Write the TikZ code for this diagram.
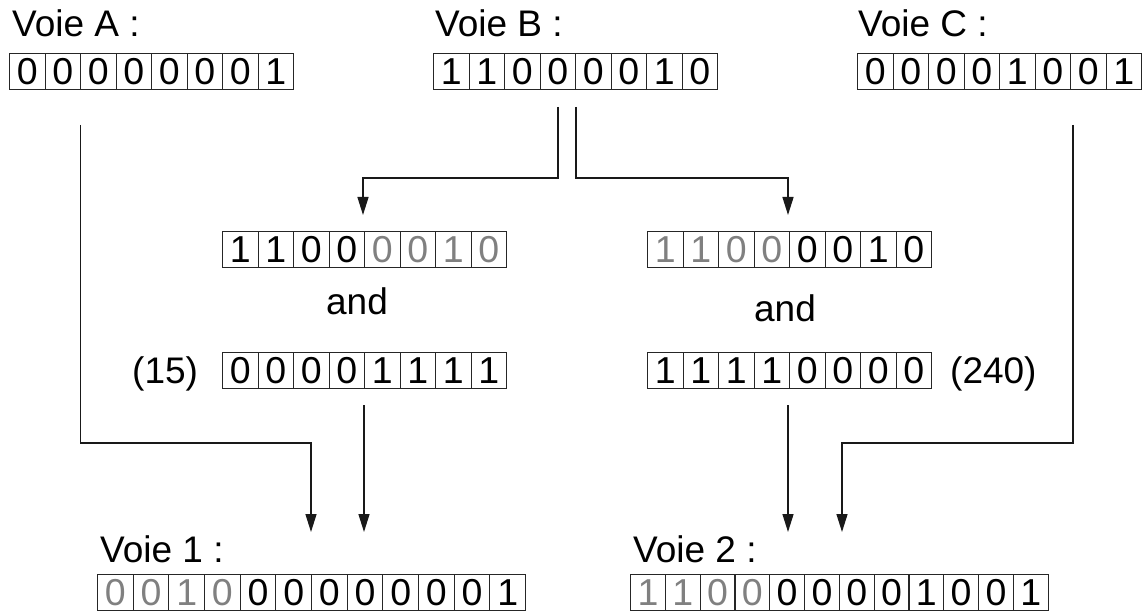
\documentclass[tikz,border=0pt]{standalone}
\usepackage{fontspec}
\setmainfont{Liberation Sans}
\usetikzlibrary{arrows.meta}
\colorlet{lt}{black!50}
\colorlet{k}{black}
\tikzset{
  cell/.style={draw=black!85,line width=1.1pt,minimum width=#1pt,minimum height=36pt,
    inner sep=0pt,font=\fontsize{37.5}{40}\selectfont},
  lbl/.style={anchor=base west,inner sep=0pt,font=\fontsize{37}{40}\selectfont},
  opword/.style={anchor=base,inner sep=0pt,font=\fontsize{37}{40}\selectfont},
  wire/.style={line width=1.4pt,draw=black!90},
  arr/.style={wire,-{Triangle[length=18pt,width=11pt]}},
}
\newcommand\register[5]{%
  \foreach \d/\c [count=\i] in {#5}{%
    \node[cell=#4, text=\c, anchor=north west] (#1-\i) at ({#2+(\i-1)*#4},#3) {\d};
  }}
\begin{document}
\begin{tikzpicture}[x=1pt,y=-1pt]
\useasboundingbox (0,0) rectangle (1143,612);
% labels
\node[lbl] (lA) at (12,37) {Voie A :};
\node[lbl] (lB) at (435,37) {Voie B :};
\node[lbl] (lC) at (858,37) {Voie C :};
\node[lbl] (l1) at (100,562) {Voie 1 :};
\node[lbl] (l2) at (633,562) {Voie 2 :};
% registers
\register{A}{9}{53}{35.5}{0/k,0/k,0/k,0/k,0/k,0/k,0/k,1/k}
\register{B}{433}{53}{35.5}{1/k,1/k,0/k,0/k,0/k,0/k,1/k,0/k}
\register{C}{857}{53}{35.5}{0/k,0/k,0/k,0/k,1/k,0/k,0/k,1/k}
\register{L1}{222}{231}{35.5}{1/k,1/k,0/k,0/k,0/lt,0/lt,1/lt,0/lt}
\register{L2}{222}{352}{35.5}{0/k,0/k,0/k,0/k,1/k,1/k,1/k,1/k}
\register{R1}{647}{231}{35.5}{1/lt,1/lt,0/lt,0/lt,0/k,0/k,1/k,0/k}
\register{R2}{647}{352}{35.5}{1/k,1/k,1/k,1/k,0/k,0/k,0/k,0/k}
\register{V1}{97}{574}{35.67}{0/lt,0/lt,1/lt,0/lt,0/k,0/k,0/k,0/k,0/k,0/k,0/k,1/k}
\register{V2}{630}{574}{34.8}{1/lt,1/lt,0/lt,0/lt,0/k,0/k,0/k,0/k,1/k,0/k,0/k,1/k}
% operators
\node[opword] (and1) at (357,315) {and};
\node[opword] (and2) at (785,322) {and};
\node[lbl] (m15) at (132,383) {(15)};
\node[lbl] (m240) at (950,383) {(240)};
% connector points
\coordinate (As) at (80.5,125);
\coordinate (At) at (80.5,443);
\coordinate (V1a) at (311,532);
\coordinate (L2s) at (364,405);
\coordinate (V1b) at (364,532);
\coordinate (Bl) at (558,107);
\coordinate (Blt) at (558,178);
\coordinate (L1in) at (363,215);
\coordinate (Br) at (576,107);
\coordinate (Brt) at (576,178);
\coordinate (R1in) at (788,215);
\coordinate (R2s) at (788,405);
\coordinate (V2a) at (788,532);
\coordinate (Cs) at (1073,125);
\coordinate (Ct) at (1073,443);
\coordinate (V2b) at (842,532);
% connectors
\draw[arr] (As) -- (At) -| (V1a);
\draw[arr] (L2s) -- (V1b);
\draw[arr] (Bl) -- (Blt) -| (L1in);
\draw[arr] (Br) -- (Brt) -| (R1in);
\draw[arr] (R2s) -- (V2a);
\draw[arr] (Cs) -- (Ct) -| (V2b);
\end{tikzpicture}
\end{document}
